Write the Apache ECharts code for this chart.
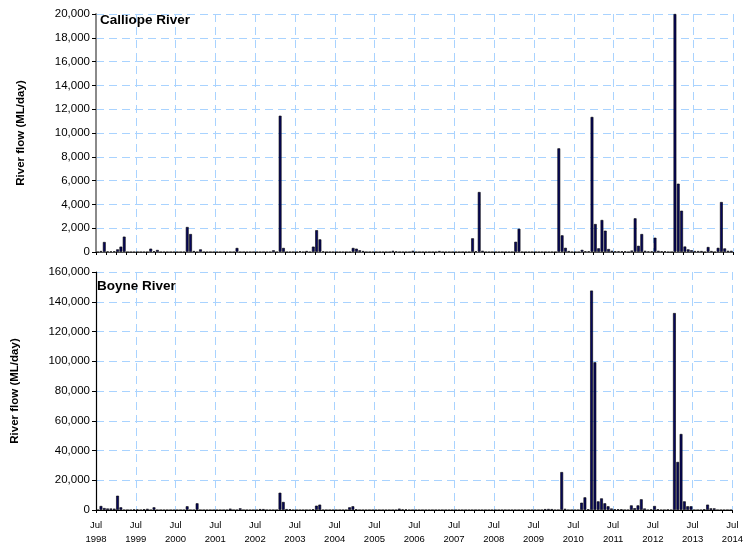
<!DOCTYPE html>
<html>
<head>
<meta charset="utf-8">
<title>River flow</title>
<script src="https://cdn.jsdelivr.net/npm/echarts@6/dist/echarts.min.js"></script>
<style>
  html, body { margin: 0; padding: 0; background: #fff; }
  #chart { width: 746px; height: 546px; }
</style>
</head>
<body>
<div id="chart"></div>
<script>
// Monthly mean river flow (ML/day), one value per month starting July 1998.
// Each row is a water year: Jul .. Jun.
const calliope = [
  0, 80, 840, 50, 50, 60, 220, 450, 1290, 0, 0, 0,          // 1998-99
  0, 0, 0, 0, 280, 60, 170, 0, 0, 0, 0, 0,                  // 1999-00
  0, 0, 0, 2100, 1510, 80, 0, 220, 0, 0, 0, 0,              // 2000-01
  0, 0, 0, 0, 0, 0, 340, 0, 0, 0, 0, 0,                     // 2001-02
  0, 0, 0, 0, 0, 140, 0, 11450, 340, 0, 0, 0,               // 2002-03
  0, 60, 0, 80, 0, 450, 1830, 1060, 50, 0, 0, 0,            // 2003-04
  0, 0, 0, 0, 0, 340, 280, 140, 80, 0, 0, 0,                // 2004-05
  0, 0, 0, 0, 0, 100, 40, 0, 0, 0, 0, 100,                  // 2005-06
  0, 0, 0, 0, 0, 0, 0, 80, 0, 0, 0, 0,                      // 2006-07
  0, 0, 0, 0, 0, 1150, 60, 5040, 100, 0, 0, 0,              // 2007-08
  0, 0, 0, 0, 0, 0, 860, 1950, 0, 0, 0, 0,                  // 2008-09
  0, 0, 0, 0, 0, 0, 0, 8710, 1400, 350, 80, 0,              // 2009-10
  0, 0, 180, 60, 60, 11350, 2350, 310, 2690, 1790, 250, 100, // 2010-11
  60, 60, 60, 60, 0, 120, 2830, 520, 1510, 100, 50, 50,     // 2011-12
  1200, 100, 60, 60, 0, 0, 20000, 5740, 3470, 460, 220, 150, // 2012-13
  80, 80, 80, 0, 420, 80, 0, 350, 4200, 300, 100, 100       // 2013-14
];

const boyne = [
  0, 2700, 1300, 1000, 1000, 900, 9600, 1800, 0, 0, 0, 400,       // 1998-99
  400, 0, 500, 800, 0, 1800, 0, 0, 0, 0, 0, 0,                    // 1999-00
  0, 0, 0, 2500, 0, 0, 4500, 0, 0, 0, 0, 0,                       // 2000-01
  0, 0, 0, 0, 900, 0, 0, 1100, 0, 0, 0, 0,                        // 2001-02
  0, 600, 600, 0, 0, 0, 0, 11600, 5400, 600, 500, 0,              // 2002-03
  0, 0, 0, 0, 0, 500, 2900, 3600, 0, 0, 0, 0,                     // 2003-04
  0, 0, 0, 0, 1800, 2500, 500, 0, 0, 0, 0, 0,                     // 2004-05
  0, 0, 0, 0, 0, 0, 0, 900, 400, 400, 0, 0,                       // 2005-06
  0, 0, 0, 0, 0, 0, 0, 0, 0, 0, 0, 0,                             // 2006-07
  0, 0, 0, 0, 0, 0, 0, 0, 0, 0, 0, 0,                             // 2007-08
  0, 0, 0, 0, 0, 0, 0, 0, 0, 0, 0, 0,                             // 2008-09
  0, 0, 0, 600, 700, 600, 0, 0, 25500, 800, 0, 0,                 // 2009-10
  0, 0, 4900, 8500, 500, 147500, 99300, 5800, 7800, 4500, 2500, 1000, // 2010-11
  500, 500, 500, 0, 0, 3100, 1200, 3100, 7200, 1000, 0, 400,      // 2011-12
  2700, 500, 0, 0, 300, 0, 132400, 32300, 51100, 5800, 2500, 2500, // 2012-13
  0, 0, 0, 500, 3600, 1100, 1100, 0, 0, 0, 0, 0                   // 2013-14
];

// Axis labels: one "Jul <year>" label per July
const tickMonth = 'Jul';
const tickYears = ['1998', '1999', '2000', '2001', '2002', '2003', '2004', '2005',
  '2006', '2007', '2008', '2009', '2010', '2011', '2012', '2013', '2014'];

const panelTitles = ['Calliope River', 'Boyne River'];
const yAxisTitle = 'River flow (ML/day)';

const MONTHS = tickYears.length * 12 - 12;
const FONT = 'Arial, "Liberation Sans", Helvetica, sans-serif';
const gridColor = '#a9d3ff';

function toPairs(arr) {
  return arr.map((v, i) => [i + 0.5, v]);
}
function thousands(v) {
  return String(v).replace(/\B(?=(\d{3})+(?!\d))/g, ',');
}

function xAxisFor(gridIndex, showLabels, lineColor) {
  return {
    type: 'value', gridIndex, min: 0, max: MONTHS, interval: 12,
    axisLine: { show: true, onZero: false, lineStyle: { color: lineColor, width: 1 } },
    axisTick: { show: true, inside: false, length: 3, lineStyle: { color: '#000' } },
    minorTick: { show: true, splitNumber: 4, length: 3, lineStyle: { color: '#000' } },
    splitLine: { show: true, lineStyle: { color: gridColor, width: 1, type: [8, 5] } },
    axisLabel: {
      show: showLabels, margin: 8, color: '#000', fontFamily: FONT, fontSize: 9.5,
      lineHeight: 14, showMinLabel: true, showMaxLabel: true,
      formatter: v => tickMonth + '\n' + tickYears[Math.round(v / 12)]
    }
  };
}

function yAxisFor(gridIndex, max, interval, lineColor, lineWidth) {
  return {
    type: 'value', gridIndex, min: 0, max, interval,
    axisLine: { show: true, lineStyle: { color: lineColor, width: lineWidth } },
    axisTick: { show: true, inside: false, length: 4, lineStyle: { color: '#000' } },
    splitLine: { show: true, lineStyle: { color: gridColor, width: 1, type: [8, 5] } },
    axisLabel: { color: '#000', fontFamily: FONT, fontSize: 11.5, margin: 6, formatter: thousands }
  };
}

const barStyle = { color: '#07075c', borderColor: '#000', borderWidth: 0.6 };

const chart = echarts.init(document.getElementById('chart'), null, { renderer: 'canvas' });
chart.setOption({
  animation: false,
  backgroundColor: '#fff',
  grid: [
    { left: 96, top: 14, width: 637, height: 238 },
    { left: 96, top: 272, width: 637, height: 238 }
  ],
  xAxis: [xAxisFor(0, false, '#555'), xAxisFor(1, true, '#000')],
  yAxis: [yAxisFor(0, 20000, 2000, '#8a8a8a', 2), yAxisFor(1, 160000, 20000, '#000', 1.2)],
  series: [
    { type: 'bar', name: panelTitles[0], xAxisIndex: 0, yAxisIndex: 0, barWidth: 2.8,
      data: toPairs(calliope), itemStyle: barStyle },
    { type: 'bar', name: panelTitles[1], xAxisIndex: 1, yAxisIndex: 1, barWidth: 2.8,
      data: toPairs(boyne), itemStyle: barStyle }
  ],
  graphic: [
    { type: 'text', left: 100, top: 13, z: 10,
      style: { text: panelTitles[0], font: 'bold 13.5px ' + FONT, fill: '#000' } },
    { type: 'text', left: 97, top: 279, z: 10,
      style: { text: panelTitles[1], font: 'bold 13.5px ' + FONT, fill: '#000' } },
    { type: 'text', x: 21, y: 133, rotation: Math.PI / 2,
      style: { text: yAxisTitle, font: 'bold 11.5px ' + FONT, fill: '#000',
               align: 'center', verticalAlign: 'middle' } },
    { type: 'text', x: 15, y: 391, rotation: Math.PI / 2,
      style: { text: yAxisTitle, font: 'bold 11.5px ' + FONT, fill: '#000',
               align: 'center', verticalAlign: 'middle' } }
  ]
});
</script>
</body>
</html>
